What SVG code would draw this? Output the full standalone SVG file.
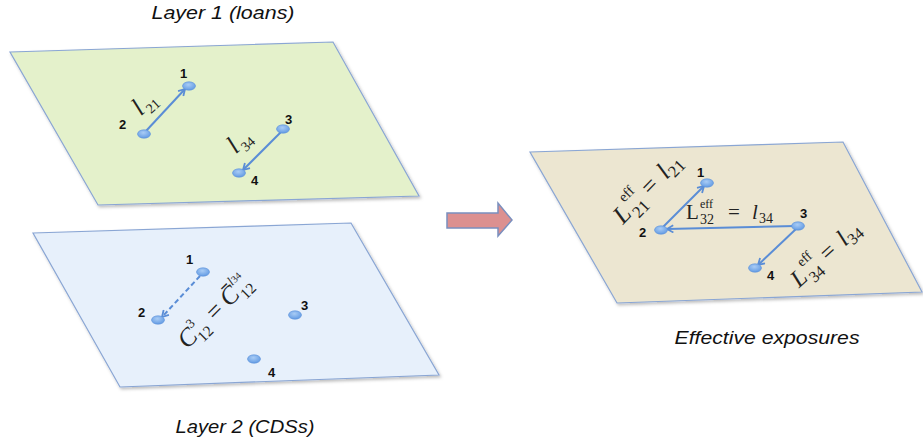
<svg xmlns="http://www.w3.org/2000/svg" width="923" height="444" viewBox="0 0 923 444">
<style>
.title{font-family:"Liberation Sans",Arial,sans-serif;font-style:italic;font-size:19px;fill:#111}
.num{font-family:"Liberation Sans",Arial,sans-serif;font-weight:bold;font-size:13px;fill:#111}
.math{font-family:"Liberation Serif","Times New Roman",serif;font-size:21px;fill:#222}
.it{font-style:italic}
.sub{font-size:14px}
.sup{font-size:12px}
.plane{stroke:#8AA6D4;stroke-width:1.2}
.edge{fill:none;stroke:#5A8DD6;stroke-width:2;marker-end:url(#ah)}
.dash{stroke-dasharray:5 3}
.node{fill:url(#ng);stroke:#5A90DA;stroke-width:0.6}
</style>
<defs>
<radialGradient id="ng" cx="0.45" cy="0.35" r="0.7">
<stop offset="0" stop-color="#A9CCF5"/>
<stop offset="1" stop-color="#5D97E2"/>
</radialGradient>
<marker id="ah" viewBox="0 0 10 10" refX="8" refY="5" markerWidth="4.5" markerHeight="4.5" orient="auto" markerUnits="strokeWidth">
<path d="M1,1 L8,5 L1,9" fill="none" stroke="#5A8DD6" stroke-width="2"/>
</marker>
<filter id="sh" x="-5%" y="-5%" width="115%" height="120%">
<feDropShadow dx="1.5" dy="2" stdDeviation="1.5" flood-color="#000" flood-opacity="0.25"/>
</filter>
</defs>

<text class="title" x="223" y="19" text-anchor="middle" textLength="143" lengthAdjust="spacingAndGlyphs">Layer 1 (loans)</text>
<text class="title" x="245" y="433" text-anchor="middle" textLength="139" lengthAdjust="spacingAndGlyphs">Layer 2 (CDSs)</text>
<text class="title" x="767" y="344" text-anchor="middle" textLength="185" lengthAdjust="spacingAndGlyphs">Effective exposures</text>

<g id="layer1">
<polygon class="plane" filter="url(#sh)" fill="#E4F1CB" points="10,52 333,42 419,196 98,205"/>
</g>
<g id="layer2">
<polygon class="plane" filter="url(#sh)" fill="#E7F0FB" points="33,233 351,223 439,375 120,387"/>
</g>
<g id="layer-eff">
<polygon class="plane" filter="url(#sh)" fill="#ECE6D1" points="530,152 843,142 922,292 617,303"/>
</g>

<g id="big-arrow">
<polygon points="447,213 498,213 498,203 512,220 498,236 498,228 447,228" fill="#DC9090" stroke="#7A8FBE" stroke-width="1.5"/>
</g>

<g id="connectors">
<line class="edge" x1="146" y1="131" x2="185" y2="89"/>
<line class="edge" x1="281" y1="132" x2="243" y2="170"/>
<line class="edge dash" x1="200" y1="276" x2="162" y2="317"/>
<line class="edge" x1="663" y1="227" x2="704" y2="186"/>
<line class="edge" x1="795" y1="226" x2="667" y2="229"/>
<line class="edge" x1="796" y1="229" x2="758" y2="265"/>
</g>

<g id="l1-node1"><ellipse class="node" cx="189" cy="86" rx="6.5" ry="4.2"/><text class="num" x="180" y="78">1</text></g>
<g id="l1-node2"><ellipse class="node" cx="144" cy="134" rx="6.5" ry="4.2"/><text class="num" x="119" y="129">2</text></g>
<g id="l1-node3"><ellipse class="node" cx="283" cy="129" rx="6.5" ry="4.2"/><text class="num" x="285" y="124">3</text></g>
<g id="l1-node4"><ellipse class="node" cx="239" cy="173" rx="6.5" ry="4.2"/><text class="num" x="251" y="185">4</text></g>

<g id="l2-node1"><ellipse class="node" cx="203" cy="272" rx="6.5" ry="4.2"/><text class="num" x="186" y="264">1</text></g>
<g id="l2-node2"><ellipse class="node" cx="158" cy="320" rx="6.5" ry="4.2"/><text class="num" x="138" y="317">2</text></g>
<g id="l2-node3"><ellipse class="node" cx="295" cy="315" rx="6.5" ry="4.2"/><text class="num" x="301" y="310">3</text></g>
<g id="l2-node4"><ellipse class="node" cx="254" cy="359" rx="6.5" ry="4.2"/><text class="num" x="268" y="377">4</text></g>

<g id="eff-node1"><ellipse class="node" cx="707" cy="183" rx="6.5" ry="4.2"/><text class="num" x="697" y="177">1</text></g>
<g id="eff-node2"><ellipse class="node" cx="661" cy="230" rx="6.5" ry="4.2"/><text class="num" x="639" y="237">2</text></g>
<g id="eff-node3"><ellipse class="node" cx="798" cy="226" rx="6.5" ry="4.2"/><text class="num" x="800" y="218">3</text></g>
<g id="eff-node4"><ellipse class="node" cx="755" cy="268" rx="6.5" ry="4.2"/><text class="num" x="767" y="280">4</text></g>

<g id="labels">
<g transform="translate(148,102) rotate(-42)">
<text class="math"><tspan class="it" x="-15" y="6" font-size="26">l</tspan><tspan class="sub" x="-6" y="11" font-size="19">21</tspan></text>
</g>
<g transform="translate(243,140) rotate(-42)">
<text class="math"><tspan class="it" x="-15" y="6" font-size="26">l</tspan><tspan class="sub" x="-6" y="11" font-size="19">34</tspan></text>
</g>
<g transform="translate(216,310) rotate(-45) scale(1.1)">
<text class="math"><tspan class="it" x="-44" y="7" font-size="23">C</tspan><tspan class="sup" x="-28" y="-4">3</tspan><tspan class="sub" x="-29" y="13">12</tspan><tspan x="-8" y="7" font-size="23">=</tspan><tspan class="it" x="10" y="7" font-size="23">C̄</tspan><tspan class="sup" x="26" y="-5"><tspan class="it">l</tspan><tspan font-size="9">34</tspan></tspan><tspan class="sub" x="26" y="13">12</tspan></text>
</g>
<g transform="translate(647,188) rotate(-46) scale(1.2)">
<text class="math"><tspan class="it" x="-36" y="7">L</tspan><tspan class="sup" x="-22" y="-5">eff</tspan><tspan class="sub" x="-23" y="13">21</tspan><tspan x="-3" y="7">=</tspan><tspan class="it" x="16" y="7">l</tspan><tspan class="sub" x="22" y="11">21</tspan></text>
</g>
<text class="math"><tspan x="686" y="219">L</tspan><tspan class="sup" x="700" y="208">eff</tspan><tspan class="sub" x="700" y="224" font-size="13">32</tspan><tspan x="728" y="219">=</tspan><tspan class="it" x="752" y="219">l</tspan><tspan class="sub" x="759" y="223">34</tspan></text>
<g transform="translate(826,253) rotate(-42) scale(1.15)">
<text class="math"><tspan class="it" x="-38" y="7">L</tspan><tspan class="sup" x="-24" y="-5">eff</tspan><tspan class="sub" x="-25" y="13">34</tspan><tspan x="-4" y="7">=</tspan><tspan class="it" x="16" y="7">l</tspan><tspan class="sub" x="22" y="11">34</tspan></text>
</g>
</g>
</svg>
